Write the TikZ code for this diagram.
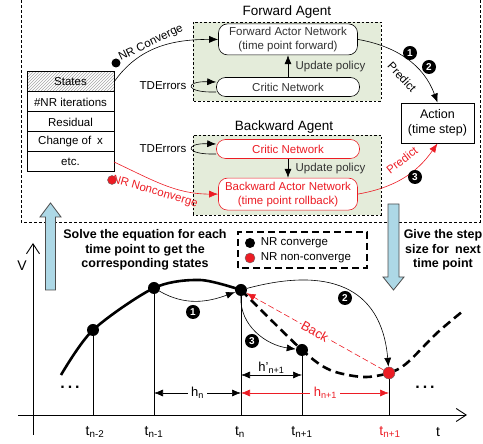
\documentclass[tikz,border=0pt]{standalone}
\usepackage{fontspec}
\setmainfont{Liberation Sans}
\usetikzlibrary{arrows.meta,positioning,patterns}
\definecolor{agentgreen}{RGB}{228,236,218}
\definecolor{nrred}{RGB}{236,28,36}
\definecolor{hintblue}{RGB}{173,216,230}

\begin{document}
\begin{tikzpicture}[
  x=1pt, y=1pt, semithick,
  font=\fontsize{11.5}{14}\selectfont,
  agent/.style={draw, thin, dash pattern=on 2.5pt off 2pt, fill=agentgreen},
  net/.style={draw, rounded corners=9pt, fill=white, align=center,
              inner sep=1pt, text=black!80},
  rednet/.style={net, draw=nrred, text=nrred},
  row/.style={draw, line width=1pt, minimum width=87pt, minimum height=20pt,
              inner sep=0pt, outer sep=0pt},
  numc/.style={circle, fill=black, text=white, inner sep=0pt, minimum size=14pt,
               font=\fontsize{10}{10}\selectfont\bfseries},
  ptdot/.style={circle, fill=black, inner sep=0pt, minimum size=12pt},
  redpt/.style={ptdot, fill=nrred, draw=black!60, thin},
  bigtxt/.style={font=\fontsize{12.5}{14.5}\selectfont\bfseries, align=center},
  tlab/.style={font=\fontsize{14}{14}\selectfont},
  hint/.style={draw=black!70, fill=hintblue, line width=0.8pt},
  axisline/.style={line width=0.9pt, -{Straight Barb[length=10pt, width=13pt]}},
  >={Latex[length=9pt, width=7pt]}, node distance=5mm and 6mm
]
\useasboundingbox (0,0) rectangle (483,444);
\draw[thin, dash pattern=on 3pt off 2pt] (21,444) -- (21,222) -- (480,222) -- (480,444);

\draw[agent] (193,343) rectangle (381,422);
\draw[agent] (193,229) rectangle (381,309);
\node[font=\fontsize{13.5}{15}\selectfont] (fwdtitle) at (287,432) {Forward Agent};
\node[font=\fontsize{13.5}{15}\selectfont] (bwdtitle) at (284,317) {Backward Agent};

\node[net, minimum width=143pt, minimum height=19pt] (fwdcritic) at (288,357) {Critic Network};
\node[net, minimum width=139pt, minimum height=31pt, above=22pt of fwdcritic] (fwdactor)
  {Forward Actor Network\\(time point forward)};
\draw[->] (fwdcritic) -- node[right=4pt, text=black!80] (fwdupdate) {Update policy} (fwdactor);
\draw[->] ([yshift=-5pt]fwdcritic.west) .. controls +(-32,-1) and +(-32,1) .. ([yshift=5pt]fwdcritic.west);
\node (fwdtde) at (163,358) {TDErrors};

\node[rednet, minimum width=143pt, minimum height=19pt] (bwdcritic) at (288,295) {Critic Network};
\node[rednet, minimum width=139pt, minimum height=32pt, below=19pt of bwdcritic] (bwdactor)
  {Backward Actor Network\\(time point rollback)};
\draw[->] (bwdcritic) -- node[right=4pt, text=black!80] (bwdupdate) {Update policy} (bwdactor);
\draw[->] ([yshift=-5pt]bwdcritic.west) .. controls +(-32,-1) and +(-32,1) .. ([yshift=5pt]bwdcritic.west);
\node (bwdtde) at (163,295) {TDErrors};

\node[row, pattern=north east lines, pattern color=black!35] (states) at (70.5,362) {States};
\node[row, below=0pt of states] (nriter) {\#NR iterations};
\node[row, below=0pt of nriter] (residual) {Residual};
\node[row, below=0pt of residual] (changex) {Change of\enspace x};
\node[row, below=0pt of changex] (etcrow) {etc.};

\node[ptdot, minimum size=9pt] (convdot) at (116,381) {};
\node[rotate=26] (convlabel) at (151,401) {NR Converge};
\draw[->] (states.east) to[out=55, in=180] (fwdactor.west);
\node[redpt, minimum size=9pt] (nonconvdot) at (112,264) {};
\node[rotate=-16, text=nrred] (nonconvlabel) at (155,252) {NR Nonconverge};
\draw[->, nrred] (etcrow.east) to[out=-25, in=180] (bwdactor.west);

\node[draw, line width=0.9pt, minimum width=73pt, minimum height=40pt, align=center,
      font=\fontsize{12.5}{15}\selectfont] (action) at (437.5,321) {Action\\(time step)};
\draw[->] (fwdactor.east) to[out=-10, in=110] (action.north);
\node[rotate=-47] (fwdpredict) at (402,367) {Predict};
\draw[->, nrred] (bwdactor.east) to[out=10, in=-125] (action.south);
\node[rotate=38, text=nrred] (bwdpredict) at (402,284) {Predict};
\node[numc] (num1) at (410,391) {1};
\node[numc] (num2) at (429,377) {2};
\node[numc] (num3) at (415,267) {3};

\draw[hint] (45.5,154) -- (45.5,227) -- (40,227) -- (50.5,241) -- (61,227) -- (55.5,227) -- (55.5,154) -- cycle;
\draw[hint] (388,240) -- (388,167) -- (383,167) -- (393.5,154) -- (404,167) -- (399,167) -- (399,240) -- cycle;
\node[bigtxt] (solvetxt) at (145,194) {Solve the equation for each\\time point to get the\\corresponding states};
\node[bigtxt] (steptxt) at (443,194) {Give the step\\size for\enspace next\\time point};

\draw[line width=1.2pt, dash pattern=on 7pt off 4pt] (238,176) rectangle (367,212);
\node[ptdot, minimum size=10pt] (lgconv) at (250,201) {};
\node[right=2pt of lgconv] (lgconvtxt) {NR converge};
\node[redpt, minimum size=10pt] (lgnon) at (250,186) {};
\node[right=2pt of lgnon] (lgnontxt) {NR non-converge};

\draw[axisline] (33,9) -- (33,201);
\draw[axisline] (18,29) -- (467,29);
\node[tlab] (vname) at (22,178) {V};
\node[tlab] (tname) at (438,12) {t};

\draw[line width=2.6pt] plot[smooth] coordinates {(61,69) (93,114) (154,156) (200,164) (241,154)};
\draw[line width=2.6pt, dash pattern=on 9pt off 5pt] plot[smooth] coordinates
  {(241,154) (302,94) (330,74) (363,67) (389,71) (407,81) (437,111) (463,133)};

\node[ptdot] (pa2) at (93,114) {};
\node[ptdot] (pa1) at (154,156) {};
\node[ptdot] (p0) at (241,154) {};
\node[ptdot] (pb1) at (302,94) {};
\node[redpt] (pr) at (389,71) {};

\coordinate (axis) at (0,29);
\coordinate (hrow) at (0,51);
\coordinate (hrowb) at (0,69);
\draw[line width=1pt] (pa2) -- (pa2 |- axis);
\draw[line width=1pt] (pa1) -- (pa1 |- axis);
\draw[line width=1pt] (p0) -- (p0 |- axis);
\draw[line width=1pt] (pb1) -- (pb1 |- axis);
\draw[line width=1pt] (pr) -- (pr |- axis);

\node[tlab] (ltn2) at (95,12) {t\textsubscript{n-2}};
\node[tlab] (ltn1) at (154,12) {t\textsubscript{n-1}};
\node[tlab] (ltn) at (240,12) {t\textsubscript{n}};
\node[tlab] (ltb1) at (302,12) {t\textsubscript{n+1}};
\node[tlab, text=nrred] (ltr1) at (390,12) {t\textsubscript{n+1}};

\draw[<->] (pa1 |- hrow) -- node[fill=white, font=\fontsize{13}{13}\selectfont] (hn) {h\textsubscript{n}} (p0 |- hrow);
\draw[<->] (p0 |- hrowb) -- node[above=-2pt, font=\fontsize{13}{13}\selectfont] (hnb) {h'\textsubscript{n+1}} (pb1 |- hrowb);
\draw[<->, nrred] (p0 |- hrow) -- node[pos=0.57, fill=white, text=nrred, font=\fontsize{13}{13}\selectfont] (hnr) {h\textsubscript{n+1}} (pr |- hrow);

\draw[->] (pa1) to[out=-30, in=200] (p0);
\draw[->] (p0) to[out=15, in=95, looseness=1.3] (pr);
\draw[->] (p0) to[out=-92, in=172] (pb1);
\draw[->, nrred, dash pattern=on 6pt off 3pt] (pr) -- node[sloped, fill=white, inner sep=1pt, text=nrred,
  font=\fontsize{13}{13}\selectfont] (backlab) {Back} (p0);
\node[numc] (g1) at (193,132) {1};
\node[numc] (g2) at (345,146) {2};
\node[numc] (g3) at (252,103) {3};

\node[font=\fontsize{16}{16}\selectfont\bfseries] (ldots) at (70,57) {.\hspace{3pt}.\hspace{3pt}.};
\node[font=\fontsize{16}{16}\selectfont\bfseries] (rdots) at (425,57) {.\hspace{3pt}.\hspace{3pt}.};
\end{tikzpicture}
\end{document}
